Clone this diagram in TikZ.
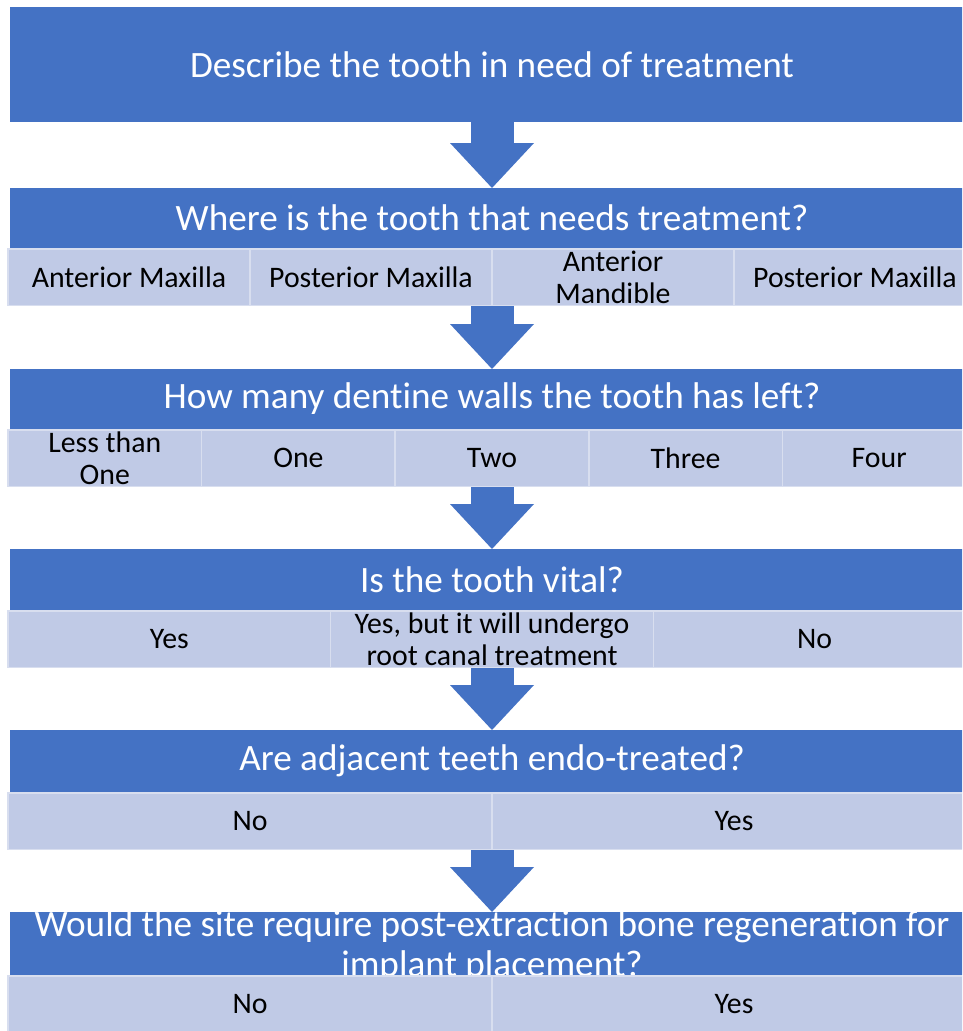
\documentclass[tikz,border=0pt]{standalone}
\usepackage{fontspec}
\setmainfont{Carlito}[Ligatures = NoCommon]
\usetikzlibrary{positioning, arrows.meta}
\definecolor{qblue}{HTML}{4472C4}
\definecolor{ablue}{HTML}{C0CAE6}
\definecolor{aline}{HTML}{D8DEEF}
\tikzstyle{question} = [rectangle, minimum width = 964pt, minimum height = 61pt, 
	inner sep = 0pt, outer sep = 0pt, fill = qblue, text = white, 
	font = \fontsize{37.2}{41}\selectfont]
\tikzstyle{qtext} = [inner sep = 0pt, text = white, align = center, 
	font = \fontsize{37.2}{40}\selectfont]
\tikzstyle{answer} = [rectangle, minimum height = 56.5pt, inner sep = 0pt, 
	outer sep = 0pt, fill = ablue, draw = aline, line width = 1.5pt, 
	align = center, font = \fontsize{29.8}{32}\selectfont]
\tikzstyle{answers} = [matrix, inner sep = 0pt, outer sep = 0pt, column sep = -1.5pt]
\tikzstyle{arrow} = [qblue, line width = 43pt, 
	-{Triangle[width = 84pt, length = 45pt, line width' = 0pt]}]
\begin{document}
\begin{tikzpicture}[x = 1pt, y = -1pt]
\useasboundingbox (0,0) rectangle (962,1031);
\clip (0,0) rectangle (962,1031);

\node (Q1) [question, minimum height = 115pt] at (492,64.5) 
	{Describe the tooth in need of treatment};

\node (Q2) [question, minimum height = 60pt, below = 66pt of Q1] 
	{Where is the tooth that needs treatment?};
\node (R2) [answers, below = 0pt of Q2]
{
	\node (R20) [answer, minimum width = 242pt] {Anterior Maxilla}; & 
	\node (R21) [answer, minimum width = 242pt] {Posterior Maxilla}; & 
	\node (R22) [answer, minimum width = 242pt] {Anterior\\Mandible}; & 
	\node (R23) [answer, minimum width = 242pt] {Posterior Maxilla}; \\
};

\node (Q3) [question, minimum height = 60pt, below = 63pt of R2] 
	{How many dentine walls the tooth has left?};
\node (R3) [answers, below = 0pt of Q3]
{
	\node (R30) [answer, minimum width = 193.6pt] {Less than\\One}; & 
	\node (R31) [answer, minimum width = 193.6pt] {One}; & 
	\node (R32) [answer, minimum width = 193.6pt] {Two}; & 
	\node (R33) [answer, minimum width = 193.6pt] {Three}; & 
	\node (R34) [answer, minimum width = 193.6pt] {Four}; \\
};

\node (Q4) [question, below = 62pt of R3] {Is the tooth vital?};
\node (R4) [answers, below = 0pt of Q4]
{
	\node (R40) [answer, minimum width = 322.7pt] {Yes}; & 
	\node (R41) [answer, minimum width = 322.7pt] 
		{Yes, but it will undergo\\root canal treatment}; & 
	\node (R42) [answer, minimum width = 322.7pt] {No}; \\
};

\node (Q5) [question, minimum height = 62pt, below = 62pt of R4] 
	{Are adjacent teeth endo-treated?};
\node (R5) [answers, below = 0pt of Q5]
{
	\node (R50) [answer, minimum width = 484pt] {No}; & 
	\node (R51) [answer, minimum width = 484pt] {Yes}; \\
};

\node (Q6) [question, minimum height = 63pt, below = 62pt of R5] {};
\node (Q6text) [qtext, yshift = -3pt] at (Q6) 
	{Would the site require post-extraction bone regeneration for\\implant placement?};
\node (R6) [answers, below = 0pt of Q6]
{
	\node (R60) [answer, minimum width = 484pt] {No}; & 
	\node (R61) [answer, minimum width = 484pt] {Yes}; \\
};

\draw [arrow] (Q1) -- (Q2);
\draw [arrow] (R2) -- (Q3);
\draw [arrow] (R3) -- (Q4);
\draw [arrow] (R4) -- (Q5);
\draw [arrow] (R5) -- (Q6);
\end{tikzpicture}
\end{document}
